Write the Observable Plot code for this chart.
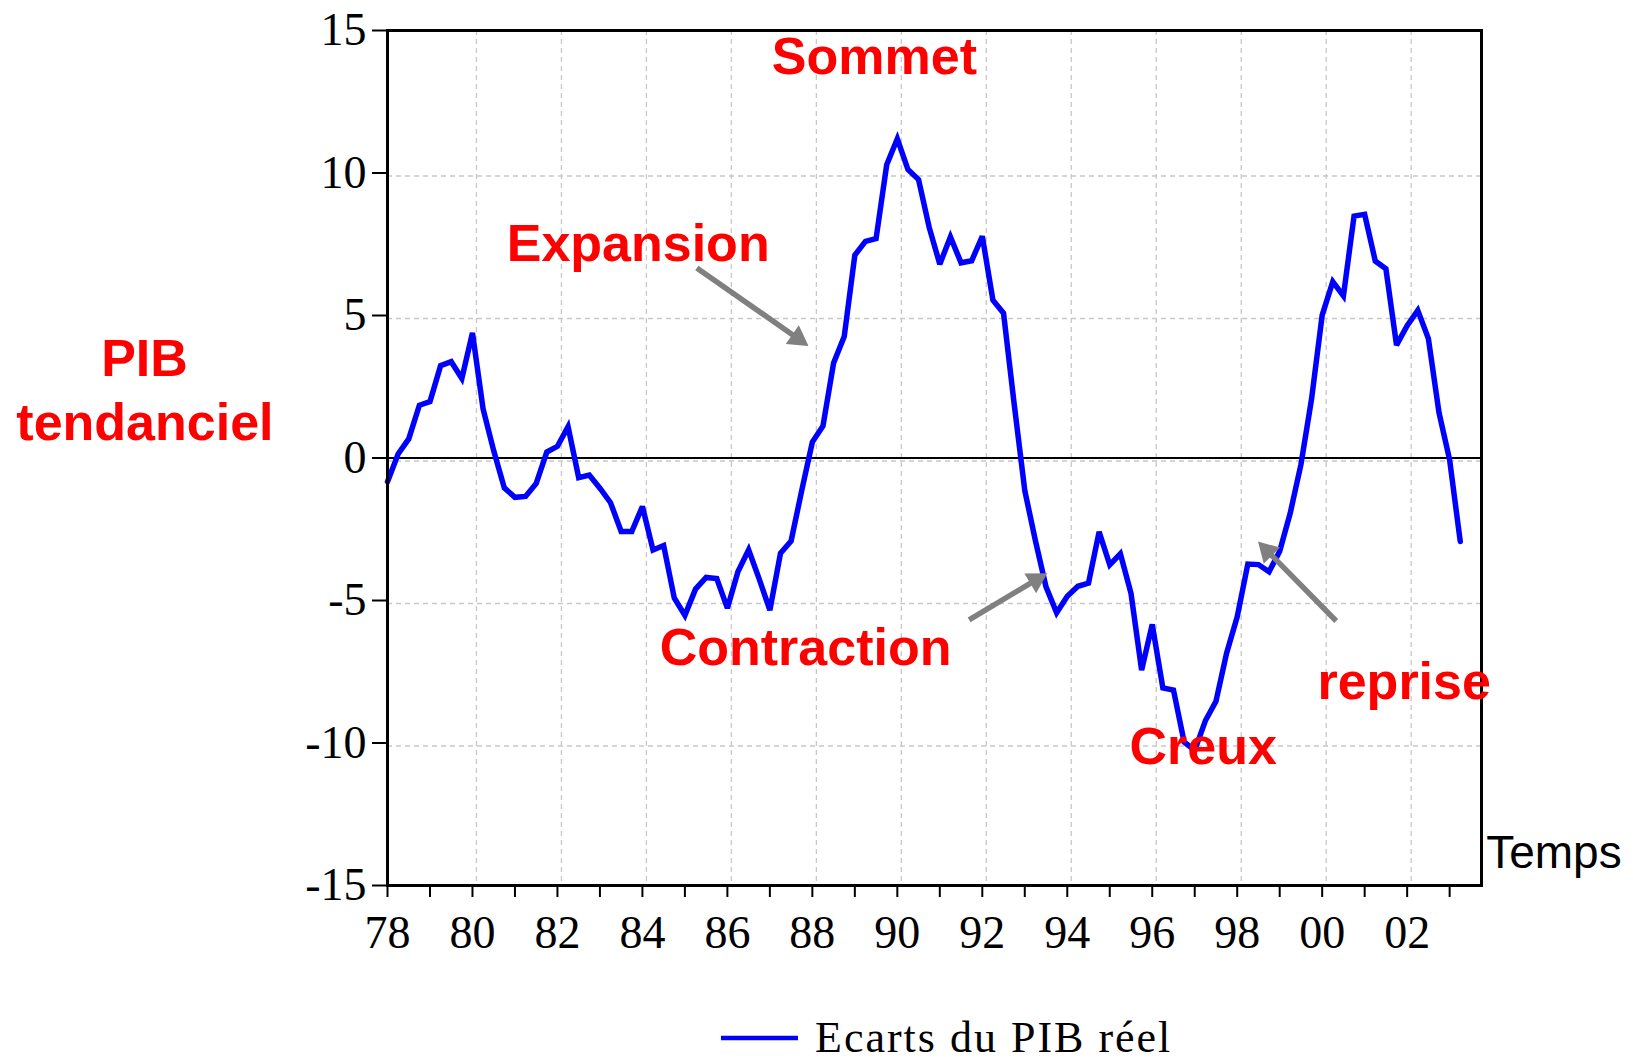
<!DOCTYPE html>
<html>
<head>
<meta charset="utf-8">
<script src="https://cdn.jsdelivr.net/npm/d3@7"></script>
<script src="https://cdn.jsdelivr.net/npm/@observablehq/plot@0.6"></script>
<style>
  html, body { margin: 0; padding: 0; background: #fff; }
  #wrap { position: relative; width: 1633px; height: 1062px; overflow: hidden; background: #fff; }
  #chart svg, #legend { display: block; }
</style>
</head>
<body>
<div id="wrap">
  <div id="chart"></div>
  <svg id="legend" width="1633" height="72"></svg>
</div>
<script>
// ---- Data: quarterly output gap, 1978Q1 .. 2003Q2 ----
const startYear = 1978;
const gap = [
  -0.83, 0.14, 0.67, 1.85, 1.98, 3.24, 3.38, 2.79,      // 1978-1979
   4.39, 1.72, 0.25, -1.05, -1.38, -1.35, -0.89, 0.21,  // 1980-1981
   0.41, 1.10, -0.69, -0.60, -1.06, -1.57, -2.58, -2.58, // 1982-1983
  -1.70, -3.23, -3.07, -4.91, -5.52, -4.60, -4.19, -4.23, // 1984-1985
  -5.27, -3.98, -3.22, -4.25, -5.34, -3.34, -2.91, -1.14, // 1986-1987
   0.56, 1.12, 3.33, 4.26, 7.12, 7.60, 7.70, 10.29,      // 1988-1989
  11.20, 10.12, 9.77, 8.09, 6.80, 7.76, 6.85, 6.92,      // 1990-1991
   7.78, 5.54, 5.08, 1.90, -1.14, -2.90, -4.52, -5.43,   // 1992-1993
  -4.85, -4.50, -4.39, -2.59, -3.75, -3.36, -4.75, -7.44, // 1994-1995
  -5.84, -8.07, -8.14, -9.96, -10.26, -9.22, -8.54, -6.85, // 1996-1997
  -5.57, -3.72, -3.74, -3.99, -3.27, -1.92, -0.23, 2.07, // 1998-1999
   5.01, 6.19, 5.69, 8.49, 8.55, 6.91, 6.64, 3.96,       // 2000-2001
   4.64, 5.18, 4.19, 1.59, -0.07, -2.93                  // 2002-2003Q2
];
const seriesName = "Ecarts du PIB réel";

// ---- Axes ----
const yTicks = [-15, -10, -5, 0, 5, 10, 15];
const yGrid = [-10, -5, 0, 5, 10];
const xYearTicks = [1978,1979,1980,1981,1982,1983,1984,1985,1986,1987,1988,1989,1990,
                    1991,1992,1993,1994,1995,1996,1997,1998,1999,2000,2001,2002,2003];
const xLabelTicks = [1978,1980,1982,1984,1986,1988,1990,1992,1994,1996,1998,2000,2002];
const xGrid = [1980,1982,1984,1986,1988,1990,1992,1994,1996,1998,2000,2002];
const xDomain = [1978, 2003.75];
const yDomain = [-15, 15];

// ---- Annotations ----
const annoLabels = ["Sommet", "Expansion", "Contraction", "Creux", "reprise"];
const annoX = [1989.46, 1983.90, 1987.84, 1997.20, 2001.93];
const annoY = [13.48, 6.91, -7.25, -10.74, -8.46];

const arrowX1 = [1985.28, 1991.69, 2000.33];
const arrowY1 = [6.67, -5.68, -5.72];
const arrowX2 = [1987.91, 1993.53, 1998.49];
const arrowY2 = [3.93, -4.04, -2.93];

const yTitleLines = ["PIB", "tendanciel"];
const yTitleX = [1972.28, 1972.29];
const yTitleY = [2.88, 0.63];

const xTitle = ["Temps"];
const xTitleX = [2003.86];
const xTitleY = [-14.38];

// ---- Layout ----
const W = 1633, H = 990, mL = 387, mR = 152, mT = 30, mB = 105;
const pxX = (W - mL - mR) / (xDomain[1] - xDomain[0]);
const pxY = (H - mT - mB) / (yDomain[1] - yDomain[0]);
const headR = 8.5;                 // triangle head radius
const tipOff = 1.555 * headR;      // centroid-to-tip distance of d3 triangle
const shaftCut = 2.0 * headR;      // shaft stops inside the head

// ---- Build tables ----
const data = gap.map((v, i) => ({ t: startYear + i / 4, v }));
const annos = annoLabels.map((s, i) => ({ s, x: annoX[i], y: annoY[i] }));
const arrows = arrowX1.map((d, i) => {
  const sx = (arrowX2[i] - arrowX1[i]) * pxX;
  const sy = -(arrowY2[i] - arrowY1[i]) * pxY;
  const len = Math.hypot(sx, sy), ux = sx / len, uy = sy / len;
  return {
    x1: arrowX1[i], y1: arrowY1[i],
    xs: arrowX2[i] - shaftCut * ux / pxX, ys: arrowY2[i] + shaftCut * uy / pxY,
    xh: arrowX2[i] - tipOff * ux / pxX, yh: arrowY2[i] + tipOff * uy / pxY,
    rot: Math.atan2(ux, -uy) * 180 / Math.PI
  };
});
const yTitle = yTitleLines.map((s, i) => ({ s, x: yTitleX[i], y: yTitleY[i] }));
const xT = xTitle.map((s, i) => ({ s, x: xTitleX[i], y: xTitleY[i] }));

const serif = "'Liberation Serif', 'Times New Roman', serif";
const sans = "'Liberation Sans', Arial, sans-serif";

const chart = Plot.plot({
  width: W,
  height: H,
  marginLeft: mL,
  marginRight: mR,
  marginTop: mT,
  marginBottom: mB,
  style: { background: "white", overflow: "visible", fontFamily: serif },
  x: { type: "linear", domain: xDomain },
  y: { domain: yDomain },
  marks: [
    Plot.gridY(yGrid, { stroke: "#c8c8c8", strokeOpacity: 1, strokeWidth: 1.3, strokeDasharray: "5,4", dy: 3 }),
    Plot.gridX(xGrid, { stroke: "#c8c8c8", strokeOpacity: 1, strokeWidth: 1.3, strokeDasharray: "5,4", dx: 4 }),
    Plot.ruleY([0], { stroke: "black", strokeWidth: 2 }),
    Plot.line(data, { x: "t", y: "v", stroke: "#0000ff", strokeWidth: 5.5, strokeLinejoin: "miter", strokeMiterlimit: 3 }),
    Plot.frame({ stroke: "black", strokeWidth: 3 }),
    Plot.axisY(yTicks, {
      tickSize: 15, tickPadding: 6, strokeWidth: 2,
      tickFormat: d => String(d),
      fontSize: 46, fontFamily: serif, fill: "black", label: null
    }),
    Plot.axisX(xYearTicks, { tickSize: 12, strokeWidth: 2, tickFormat: () => "", label: null }),
    Plot.axisX(xLabelTicks, {
      tickSize: 0, tickPadding: 30,
      tickFormat: d => String(d % 100).padStart(2, "0"),
      fontSize: 46, fontFamily: serif, fill: "black", label: null
    }),
    Plot.link(arrows, {
      x1: "x1", y1: "y1", x2: "xs", y2: "ys",
      stroke: "#808080", strokeWidth: 5.5, strokeLinecap: "butt"
    }),
    Plot.dot(arrows, {
      x: "xh", y: "yh", symbol: "triangle", r: headR, rotate: "rot",
      fill: "#808080", stroke: "none"
    }),
    Plot.text(annos, {
      x: "x", y: "y", text: "s", fill: "#ff0000", fontWeight: "bold",
      fontSize: 52, fontFamily: sans, textAnchor: "middle", lineAnchor: "bottom"
    }),
    Plot.text(yTitle, {
      x: "x", y: "y", text: "s", fill: "#ff0000", fontWeight: "bold",
      fontSize: 52, fontFamily: sans, textAnchor: "middle", lineAnchor: "bottom"
    }),
    Plot.text(xT, {
      x: "x", y: "y", text: "s", fill: "black",
      fontSize: 46, fontFamily: sans, textAnchor: "start", lineAnchor: "bottom"
    })
  ]
});
document.getElementById("chart").appendChild(chart);

// ---- Legend below the plot ----
const lg = d3.select("#legend");
lg.append("line")
  .attr("x1", 721).attr("x2", 798).attr("y1", 48).attr("y2", 48)
  .attr("stroke", "#0000ff").attr("stroke-width", 4.5);
lg.append("text")
  .attr("x", 815).attr("y", 62)
  .attr("font-family", serif).attr("font-size", 44)
  .attr("letter-spacing", 2).attr("fill", "black")
  .text(seriesName);
</script>
</body>
</html>
